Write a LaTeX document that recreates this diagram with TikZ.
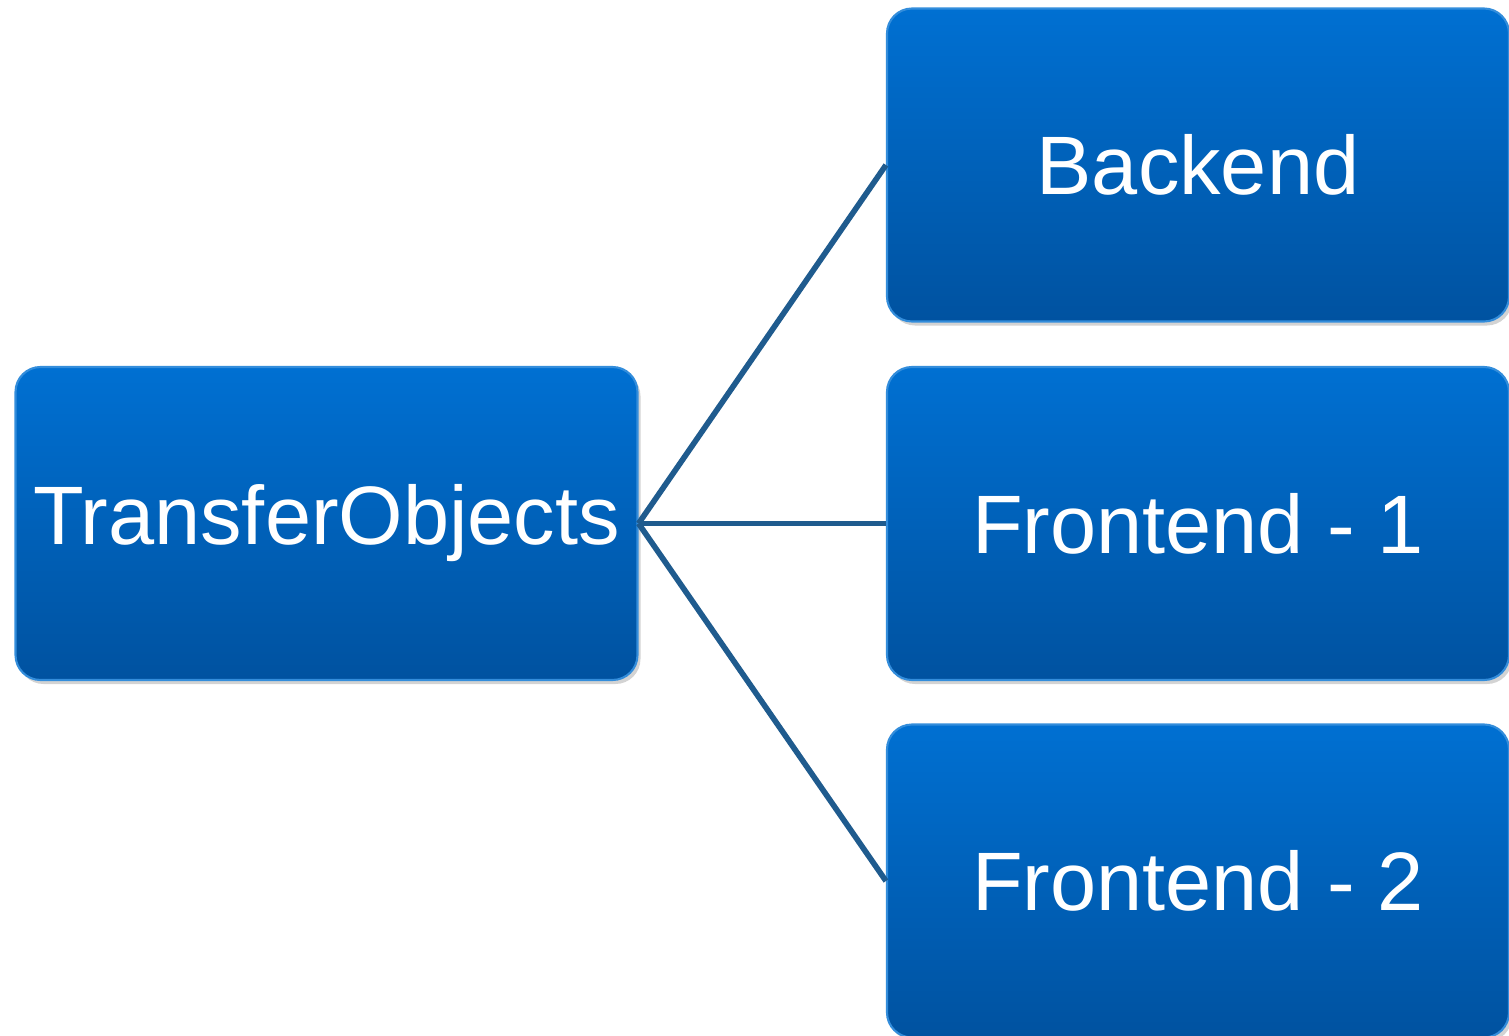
\documentclass[tikz,border=0pt]{standalone}
\usepackage{fontspec}
\setmainfont{Liberation Sans}
\usetikzlibrary{shadows}

\definecolor{boxtop}{HTML}{0070D2}
\definecolor{boxbot}{HTML}{0052A0}
\definecolor{linkblue}{HTML}{1F5B8E}

\begin{document}
\begin{tikzpicture}[
  every node/.style={rectangle, rounded corners=0.25cm, minimum width=6.22cm, minimum height=3.13cm,
    align=center, font=\fontsize{23.6}{27}\selectfont, text=white},
  part/.style={top color=boxtop, bottom color=boxbot, draw=boxtop!80!white, line width=0.6pt,
    drop shadow={shadow xshift=0.03cm, shadow yshift=-0.04cm, opacity=0.35}},
  link/.style={draw=linkblue, line width=1.6pt}
]
\useasboundingbox (0,0) rectangle (15.09,10.35);

\node[part] (trans)  at (3.265,5.115) {TransferObjects};
\node[part] (backend) at (11.98,8.70) {Backend};
\node[part] (front1) at (11.98,5.115) {Frontend - 1};
\node[part] (front2) at (11.98,1.54) {Frontend - 2};

\draw[link] (trans.east) -- (backend.west);
\draw[link] (trans.east) -- (front1.west);
\draw[link] (trans.east) -- (front2.west);
\end{tikzpicture}
\end{document}
